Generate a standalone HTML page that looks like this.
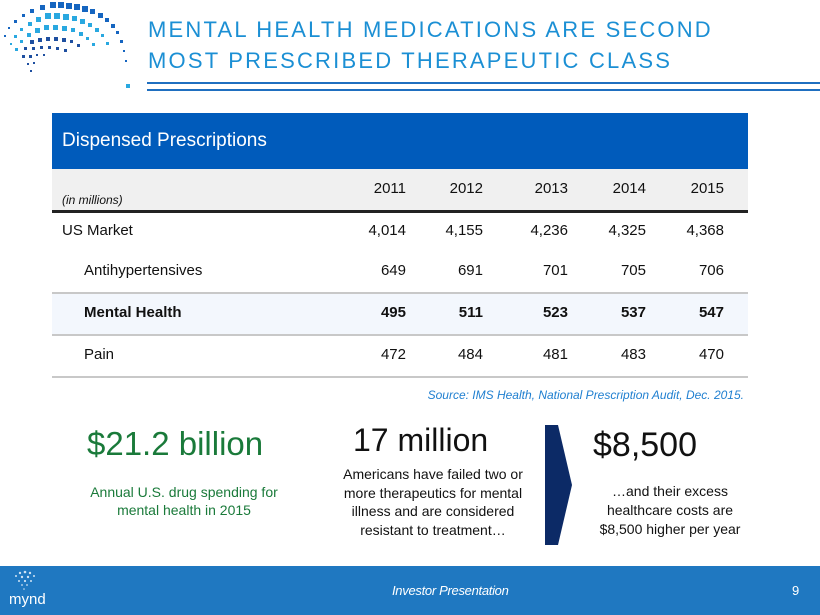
<!DOCTYPE html>
<html><head><style>
*{margin:0;padding:0;box-sizing:border-box}
body{width:820px;height:615px;position:relative;background:#fff;font-family:"Liberation Sans",sans-serif;overflow:hidden;color:#111}
.a{position:absolute;white-space:nowrap}
.n{position:absolute;text-align:right;width:80px;font-size:15px}
</style></head><body>
<svg class="a" style="left:0;top:0" width="140" height="90">
<g fill="#1565c0">
<rect x="50" y="2" width="6" height="6"/><rect x="58" y="2" width="6" height="6"/><rect x="66" y="3" width="6" height="6"/><rect x="74" y="4" width="6" height="6"/><rect x="82" y="6" width="6" height="6"/><rect x="90" y="9" width="5" height="5"/><rect x="98" y="13" width="5" height="5"/><rect x="105" y="18" width="4" height="4"/><rect x="111" y="24" width="4" height="4"/><rect x="116" y="31" width="3" height="3"/><rect x="120" y="40" width="3" height="3"/><rect x="123" y="50" width="2" height="2"/><rect x="125" y="60" width="2" height="2"/>
<rect x="40" y="5" width="5" height="5"/><rect x="30" y="9" width="4" height="4"/><rect x="22" y="14" width="3" height="3"/><rect x="14" y="20" width="3" height="3"/><rect x="8" y="27" width="2" height="2"/><rect x="4" y="35" width="2" height="2"/>
</g>
<g fill="#29a8e0">
<rect x="45" y="13" width="6" height="6"/><rect x="54" y="13" width="6" height="6"/><rect x="63" y="14" width="6" height="6"/><rect x="72" y="16" width="5" height="5"/><rect x="80" y="19" width="5" height="5"/><rect x="88" y="23" width="4" height="4"/><rect x="95" y="28" width="4" height="4"/><rect x="101" y="34" width="3" height="3"/><rect x="106" y="42" width="3" height="3"/>
<rect x="36" y="17" width="5" height="5"/><rect x="28" y="22" width="4" height="4"/><rect x="20" y="28" width="3" height="3"/><rect x="14" y="35" width="3" height="3"/><rect x="10" y="43" width="2" height="2"/>
<rect x="35" y="28" width="5" height="5"/><rect x="44" y="25" width="5" height="5"/><rect x="53" y="25" width="5" height="5"/><rect x="62" y="26" width="5" height="5"/><rect x="71" y="28" width="4" height="4"/><rect x="79" y="32" width="4" height="4"/><rect x="86" y="37" width="3" height="3"/><rect x="92" y="43" width="3" height="3"/>
<rect x="27" y="33" width="4" height="4"/><rect x="20" y="40" width="3" height="3"/><rect x="15" y="48" width="3" height="3"/>
</g>
<g fill="#1e4fa0">
<rect x="30" y="40" width="4" height="4"/><rect x="38" y="38" width="4" height="4"/><rect x="46" y="37" width="4" height="4"/><rect x="54" y="37" width="4" height="4"/><rect x="62" y="38" width="4" height="4"/><rect x="70" y="40" width="3" height="3"/><rect x="77" y="44" width="3" height="3"/>
<rect x="24" y="47" width="3" height="3"/><rect x="32" y="47" width="3" height="3"/><rect x="40" y="46" width="3" height="3"/><rect x="48" y="46" width="3" height="3"/><rect x="56" y="47" width="3" height="3"/><rect x="64" y="49" width="3" height="3"/>
<rect x="22" y="55" width="3" height="3"/><rect x="29" y="55" width="3" height="3"/><rect x="36" y="54" width="2" height="2"/><rect x="43" y="54" width="2" height="2"/><rect x="27" y="63" width="2" height="2"/><rect x="33" y="62" width="2" height="2"/><rect x="30" y="70" width="2" height="2"/>
</g>
<rect x="126" y="84" width="4" height="4" fill="#29a8e0"/>
</svg>
<div class="a" style="left:148px;top:14px;font-size:22px;line-height:31px;color:#1b8fd4;letter-spacing:2.2px">MENTAL HEALTH MEDICATIONS ARE SECOND<br>MOST PRESCRIBED THERAPEUTIC CLASS</div>
<div class="a" style="left:147px;top:82px;width:673px;height:2px;background:#1f6fc0"></div>
<div class="a" style="left:147px;top:89px;width:673px;height:2px;background:#1f6fc0"></div>

<div class="a" style="left:52px;top:113px;width:696px;height:56px;background:#005bbb"></div>
<div class="a" style="left:62px;top:130px;font-size:19px;color:#fff">Dispensed Prescriptions</div>
<div class="a" style="left:52px;top:169px;width:696px;height:41px;background:#f0f0f0"></div>
<div class="a" style="left:62px;top:193px;font-size:12px;font-style:italic">(in millions)</div>
<div class="a" style="left:52px;top:210px;width:696px;height:3px;background:#222"></div>
<div class="a" style="left:52px;top:293px;width:696px;height:41px;background:#f3f7fd"></div>
<div class="a" style="left:52px;top:292px;width:696px;height:2px;background:#c8c8c8"></div>
<div class="a" style="left:52px;top:334px;width:696px;height:2px;background:#c8c8c8"></div>
<div class="a" style="left:52px;top:376px;width:696px;height:2px;background:#c8c8c8"></div>

<div class="n" style="left:326px;top:180px">2011</div><div class="n" style="left:403px;top:180px">2012</div><div class="n" style="left:488px;top:180px">2013</div><div class="n" style="left:566px;top:180px">2014</div><div class="n" style="left:644px;top:180px">2015</div>

<div class="a" style="left:62px;top:222px;font-size:15px">US Market</div>
<div class="n" style="left:326px;top:222px">4,014</div><div class="n" style="left:403px;top:222px">4,155</div><div class="n" style="left:488px;top:222px">4,236</div><div class="n" style="left:566px;top:222px">4,325</div><div class="n" style="left:644px;top:222px">4,368</div>

<div class="a" style="left:84px;top:262px;font-size:15px">Antihypertensives</div>
<div class="n" style="left:326px;top:262px">649</div><div class="n" style="left:403px;top:262px">691</div><div class="n" style="left:488px;top:262px">701</div><div class="n" style="left:566px;top:262px">705</div><div class="n" style="left:644px;top:262px">706</div>

<div style="font-weight:bold">
<div class="a" style="left:84px;top:304px;font-size:15px">Mental Health</div>
<div class="n" style="left:326px;top:304px">495</div><div class="n" style="left:403px;top:304px">511</div><div class="n" style="left:488px;top:304px">523</div><div class="n" style="left:566px;top:304px">537</div><div class="n" style="left:644px;top:304px">547</div>
</div>

<div class="a" style="left:84px;top:346px;font-size:15px">Pain</div>
<div class="n" style="left:326px;top:346px">472</div><div class="n" style="left:403px;top:346px">484</div><div class="n" style="left:488px;top:346px">481</div><div class="n" style="left:566px;top:346px">483</div><div class="n" style="left:644px;top:346px">470</div>

<div class="a" style="right:76px;top:388px;font-size:12px;font-style:italic;color:#1f7fd0">Source: IMS Health, National Prescription Audit, Dec. 2015.</div>

<div class="a" style="left:87px;top:425px;font-size:33px;color:#1a7a3a">$21.2 billion</div>
<div class="a" style="left:76px;top:483px;width:216px;text-align:center;font-size:14px;line-height:18px;color:#1a7a3a;white-space:normal">Annual U.S. drug spending for mental health in 2015</div>

<div class="a" style="left:353px;top:422px;font-size:32px;color:#111">17 million</div>
<div class="a" style="left:327px;top:465px;width:212px;text-align:center;font-size:14px;line-height:18.5px;white-space:normal">Americans have failed two or more therapeutics for mental illness and are considered resistant to treatment…</div>

<svg class="a" style="left:540px;top:420px" width="40" height="130"><polygon points="5,5 18,5 32,65 18,125 5,125" fill="#0c2a66"/></svg>

<div class="a" style="left:593px;top:426px;font-size:34px;color:#111">$8,500</div>
<div class="a" style="left:586px;top:482px;width:168px;text-align:center;font-size:14px;line-height:19px;white-space:normal">…and their excess healthcare costs are $8,500 higher per year</div>

<div class="a" style="left:0;top:566px;width:820px;height:49px;background:#1f78c1"></div>
<svg class="a" style="left:10px;top:568px" width="30" height="26"><g fill="#cfe3f5"><circle cx="15" cy="4" r="1.3"/><circle cx="10" cy="5" r="1.2"/><circle cx="20" cy="5" r="1.2"/><circle cx="6" cy="8" r="1"/><circle cx="24" cy="8" r="1"/><circle cx="12" cy="9" r="1.2"/><circle cx="18" cy="9" r="1.2"/><circle cx="9" cy="13" r="1"/><circle cx="15" cy="13" r="1.1"/><circle cx="21" cy="13" r="1"/><circle cx="12" cy="17" r="0.9"/><circle cx="17" cy="17" r="0.9"/><circle cx="14" cy="21" r="0.8"/></g></svg>
<div class="a" style="left:9px;top:591px;font-size:15px;color:#fff">mynd</div>
<div class="a" style="left:392px;top:583px;font-size:13px;font-style:italic;color:#fff;letter-spacing:-0.3px">Investor Presentation</div>
<div class="a" style="left:792px;top:583px;font-size:13px;color:#fff">9</div>
</body></html>
